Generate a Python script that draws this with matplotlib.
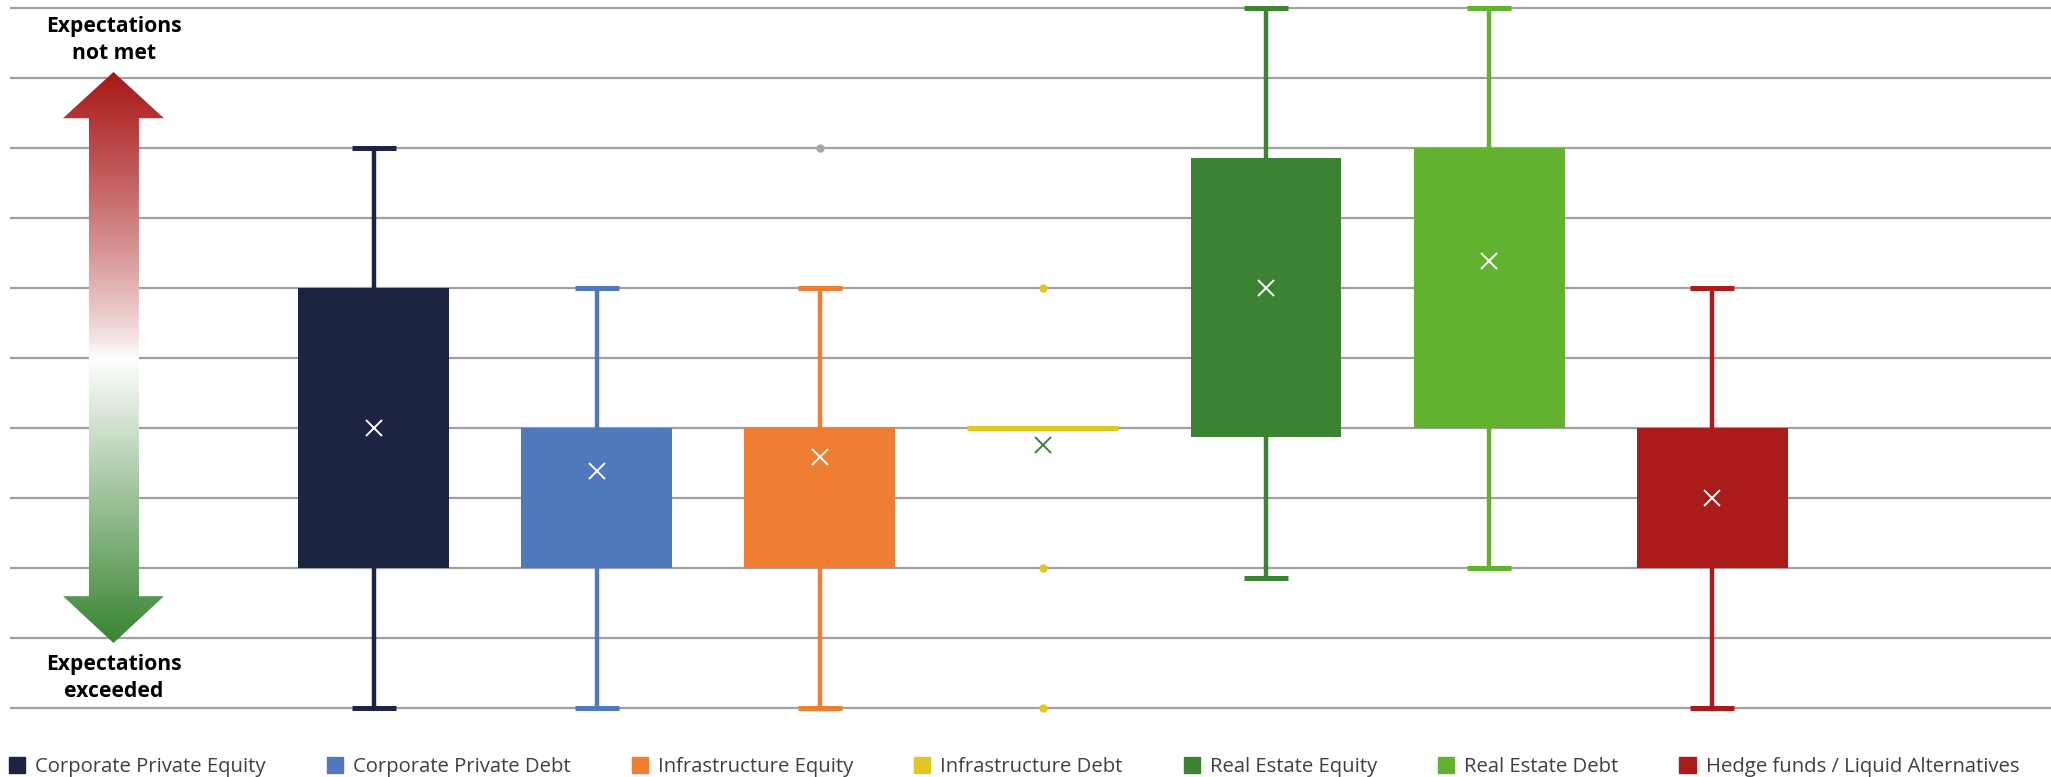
"""Box-and-whisker chart: private markets vs. expectations."""
import matplotlib
matplotlib.use("Agg")
import matplotlib.pyplot as plt
import numpy as np
from matplotlib.patches import Patch, Polygon

# data (scale 0..10, higher = expectations not met)
categories = ["Corporate Private Equity", "Corporate Private Debt", "Infrastructure Equity",
              "Infrastructure Debt", "Real Estate Equity", "Real Estate Debt",
              "Hedge funds / Liquid Alternatives"]
whis_low = [0, 0, 0, 4, 1.86, 2, 0]
q1 = [2, 2, 2, 4, 3.87, 4, 2]
q3 = [6, 4, 4, 4, 7.86, 8, 4]
whis_high = [8, 6, 6, 4, 10, 10, 6]
means = [4, 3.39, 3.59, 3.75, 6.0, 6.38, 3.0]
outliers = [[], [], [8], [6, 2, 0], [], [], []]

colors = ["#1b2541", "#5078bd", "#ee7e32", "#e0c722", "#3c8434", "#63b22f", "#aa1c19"]
mean_colors = ["white", "white", "white", "#3c8434", "white", "white", "white"]
flier_colors = ["#a6a6a6", "#a6a6a6", "#a6a6a6", "#e0c722", "#a6a6a6", "#a6a6a6", "#a6a6a6"]

W, H = 2051, 777
fig = plt.figure(figsize=(W / 100, H / 100), dpi=100)
fig.patch.set_facecolor("white")

# axes placed so that level 0 -> y=708px, level 10 -> y=8px, x=1 -> 374px
ax = fig.add_axes([10 / W, (H - 715) / H, 2041 / W, 714 / H])
ax.set_xlim(-0.632, 8.52)
ax.set_ylim(-0.1, 10.1)

for i, name in enumerate(categories):
    c = colors[i]
    stat = dict(whislo=whis_low[i], q1=q1[i], med=q1[i], q3=q3[i], whishi=whis_high[i],
                mean=means[i], fliers=outliers[i])
    ax.bxp([stat], positions=[i + 1], widths=0.677, capwidths=0.2, patch_artist=True,
           showmeans=True, showfliers=True,
           boxprops=dict(facecolor=c, edgecolor=c, linewidth=3.6 if q1[i] == q3[i] else 0),
           whiskerprops=dict(color=c, linewidth=3.2, solid_capstyle="butt"),
           capprops=dict(color=c, linewidth=3.6, solid_capstyle="butt"),
           medianprops=dict(visible=False),
           meanprops=dict(marker="x", markeredgecolor=mean_colors[i], markersize=11,
                          markeredgewidth=1.4),
           flierprops=dict(marker="o", markerfacecolor=flier_colors[i],
                           markeredgecolor=flier_colors[i], markersize=5))

ax.set_yticks(range(11))
ax.set_xticks([])
ax.yaxis.grid(True, color="#a0a0a0", linewidth=1.6)
ax.set_axisbelow(True)
ax.tick_params(left=False, labelleft=False)
for s in ax.spines.values():
    s.set_visible(False)

# gradient double arrow on the left
aax = fig.add_axes([63 / W, (H - 643) / H, 101 / W, 571 / H])
aax.set_xlim(0, 1); aax.set_ylim(0, 1); aax.axis("off")
red = np.array([0.66, 0.09, 0.09]); green = np.array([0.22, 0.52, 0.19]); white = np.ones(3)
t = np.linspace(0, 1, 400)[:, None]  # 0 = bottom, 1 = top
mid = 0.5
grad = np.where(t > mid, white + (red - white) * ((t - mid) / (1 - mid)) ** 0.8,
                white + (green - white) * ((mid - t) / mid))
grad = grad[::-1][:, None, :]
pts = [(0.5, 1), (1, 0.919), (0.752, 0.919), (0.752, 0.082), (1, 0.082), (0.5, 0),
       (0, 0.082), (0.257, 0.082), (0.257, 0.919), (0, 0.919)]
poly = Polygon(pts, closed=True, fc="none", ec="none", transform=aax.transData)
aax.add_patch(poly)
im = aax.imshow(grad, extent=[0, 1, 0, 1], aspect="auto", interpolation="bilinear")
im.set_clip_path(poly)

tfont = ["Open Sans", "DejaVu Sans"]
fig.text(114 / W, 1 - 40 / H, "Expectations\nnot met", ha="center", va="center",
         fontsize=15.2, fontweight="bold", family=tfont, linespacing=1.42)
fig.text(114 / W, 1 - 678 / H, "Expectations\nexceeded", ha="center", va="center",
         fontsize=15.2, fontweight="bold", family=tfont, linespacing=1.42)

handles = [Patch(facecolor=c, edgecolor=c) for c in colors]
leg = fig.legend(handles, categories, loc="center left", bbox_to_anchor=(9 / W, 1 - 767 / H),
                 ncol=7, frameon=False, borderpad=0, borderaxespad=0,
                 handlelength=0.8, handleheight=0.8, handletextpad=0.5,
                 columnspacing=3.0, prop=dict(family=["Open Sans"], size=14.6))
for txt in leg.get_texts():
    txt.set_color("#404040")

fig.savefig("out.png", dpi=100, facecolor="white")
